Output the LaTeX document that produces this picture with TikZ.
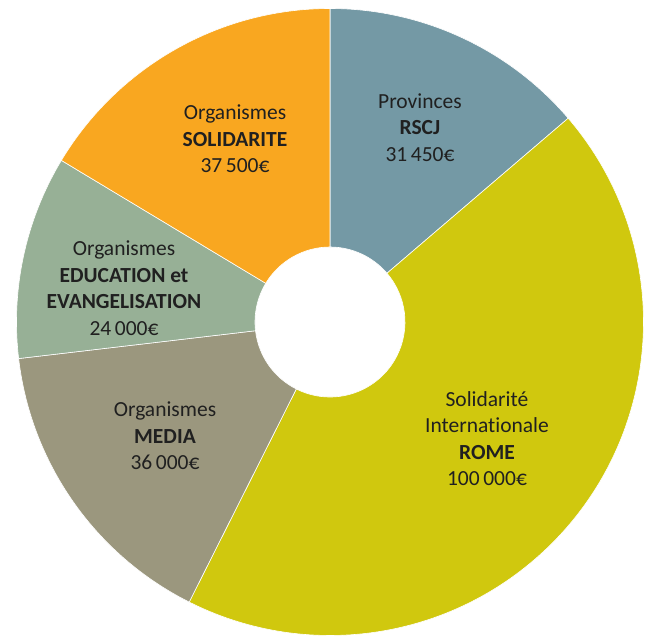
\documentclass[tikz,border=0pt]{standalone}
\usepackage{fontspec}
\setmainfont[Ligatures=NoCommon]{Carlito}
\usepackage{tikz}

\definecolor{provblue}{HTML}{7499A5}
\definecolor{romeyellow}{HTML}{D0C80E}
\definecolor{mediagray}{HTML}{9B977E}
\definecolor{edusage}{HTML}{97B096}
\definecolor{solorange}{HTML}{F9A720}
\definecolor{slicefont}{HTML}{202020}

% one ring segment: start angle, end angle, colour
\newcommand{\ringpart}[3]{%
  \fill[#3, draw=white, line width=0.6pt]
    (#1:313.5) arc[start angle=#1, end angle=#2, radius=313.5]
    -- (#2:75) arc[start angle=#2, end angle=#1, radius=75] -- cycle;}

\begin{document}
\begin{tikzpicture}[x=1pt, y=1pt]
    \tikzstyle{slicetext} = [align=center, text=slicefont,
                             font=\fontsize{21.5}{26.5}\selectfont]
    \useasboundingbox (-330,-315) rectangle (318,322);
    \coordinate (Centre) at (0,0);

    % Ring, clockwise from the top
    \ringpart{90}{40.548}{provblue}
    \ringpart{40.548}{-116.69}{romeyellow}
    \ringpart{-116.69}{-173.30}{mediagray}
    \ringpart{-173.30}{-211.03}{edusage}
    \ringpart{-211.03}{-270}{solorange}

    % Provinces
    \node [slicetext] (Provinces) at (90,194.5)
          {Provinces\\\textbf{RSCJ}\\31\,450€};

    % Rome
    \node [slicetext] (Rome) at (157,-116.5)
          {Solidarité\\Internationale\\\textbf{ROME}\\100\,000€};

    % Media
    \node [slicetext] (Media) at (-165,-114)
          {Organismes\\\textbf{MEDIA}\\36\,000€};

    % Education
    \node [slicetext] (Education) at (-206,34)
          {Organismes\\\textbf{EDUCATION et}\\\textbf{EVANGELISATION}\\24\,000€};

    % Solidarite
    \node [slicetext] (Solidarite) at (-95,183)
          {Organismes\\\textbf{SOLIDARITE}\\37\,500€};
\end{tikzpicture}
\end{document}
